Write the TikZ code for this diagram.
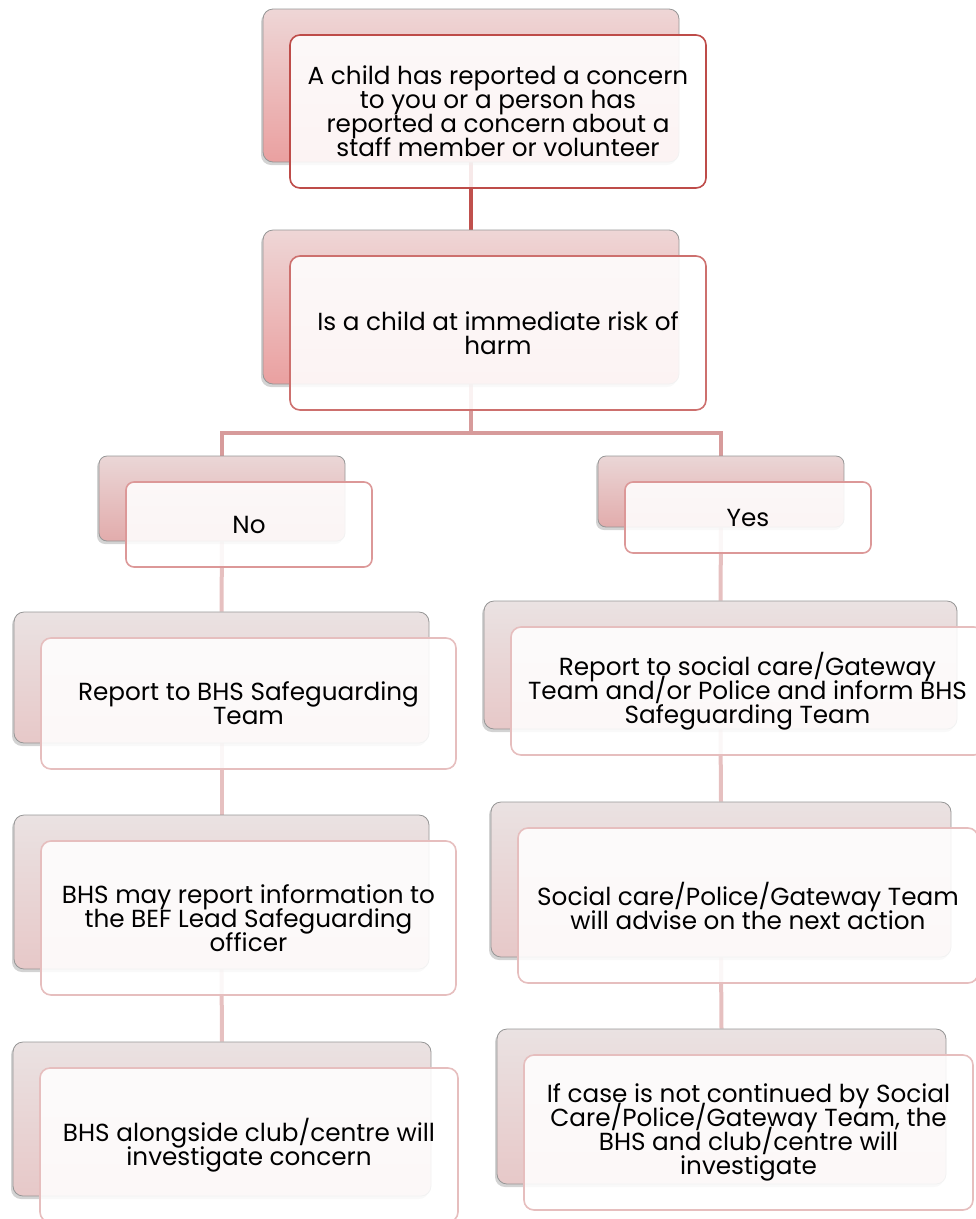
\documentclass[tikz,border=0pt]{standalone}
\usepackage{fontspec}
\setmainfont{Poppins}
\usetikzlibrary{shadows,calc}
\pgfdeclarelayer{bg}
\pgfsetlayers{bg,main}
\definecolor{bkTopA}{RGB}{238,214,214}
\definecolor{bkBotA}{RGB}{234,160,160}
\definecolor{bkTopB}{RGB}{234,214,214}
\definecolor{bkBotB}{RGB}{226,172,172}
\definecolor{bkTopC}{RGB}{234,226,226}
\definecolor{bkBotC}{RGB}{231,200,200}
\definecolor{frA}{RGB}{190,76,73}
\definecolor{frB}{RGB}{205,112,110}
\definecolor{frC}{RGB}{220,152,152}
\definecolor{frD}{RGB}{230,190,190}
\definecolor{lnA}{RGB}{192,80,77}
\definecolor{lnB}{RGB}{215,155,155}
\definecolor{lnC}{RGB}{230,192,192}
\newcommand\mkpair[8]{%
  \node[#6, minimum width=#4pt, minimum height=#5pt] (b#1) at (#2,#3) {};
  \node[#7, minimum width=#4pt, minimum height=#5pt] (f#1) at ($(b#1.center)+(27,26)$) {#8};
}
\begin{document}
\begin{tikzpicture}[x=1pt,y=-1pt,
  backbox/.style={rectangle, rounded corners=10pt, draw={rgb,255:red,150;green,150;blue,150}, line width=0.8pt,
     drop shadow={shadow xshift=-2pt, shadow yshift=-3pt, opacity=0.35, fill=gray}},
  backA/.style={backbox, top color=bkTopA, bottom color=bkBotA},
  backB/.style={backbox, top color=bkTopB, bottom color=bkBotB, rounded corners=8pt},
  backC/.style={backbox, top color=bkTopC, bottom color=bkBotC},
  frontbox/.style={rectangle, rounded corners=10pt, fill=white, fill opacity=0.88, text opacity=1,
     line width=1.6pt, align=center, inner sep=0pt,
     font={\fontsize{24.7}{24}\selectfont\lineskiplimit=-30pt}},
  frontA/.style={frontbox, draw=frA},
  frontB/.style={frontbox, draw=frB},
  frontC/.style={frontbox, draw=frC, rounded corners=8pt},
  frontD/.style={frontbox, draw=frD},
  conn/.style={line width=4pt}
]
\useasboundingbox (0,0) rectangle (976,1219);
\clip (0,0) rectangle (976,1219);

\mkpair{1}{471}{85.5}{416}{153}{backA}{frontA}{A child has reported a concern\\to you or a person has\\reported a concern about a\\staff member or volunteer}
\mkpair{2}{471}{307}{416}{154}{backA}{frontB}{Is a child at immediate risk of\\harm}
\mkpair{N}{222}{498.5}{246}{85}{backB}{frontC}{No}
\mkpair{Y}{721}{491.5}{246}{71}{backB}{frontC}{Yes}
\mkpair{L4}{221.5}{677.5}{415}{131}{backC}{frontD}{Report to BHS Safeguarding\\Team}
\mkpair{L5}{221.5}{892}{415}{154}{backC}{frontD}{BHS may report information to\\the BEF Lead Safeguarding\\officer}
\mkpair{L6}{222}{1119}{418}{154}{backC}{frontD}{BHS alongside club/centre will\\investigate concern}
\mkpair{R4}{720.5}{665}{473}{128}{backC}{frontD}{Report to social care/Gateway\\Team and/or Police and inform BHS\\Safeguarding Team}
\mkpair{R5}{721}{879.5}{460}{155}{backC}{frontD}{Social care/Police/Gateway Team\\will advise on the next action}
\mkpair{R6}{721.5}{1106.5}{449}{155}{backC}{frontD}{If case is not continued by Social\\Care/Police/Gateway Team, the\\BHS and club/centre will\\investigate}

\coordinate (j) at (471,433);
\begin{pgfonlayer}{bg}
  \draw[conn, draw=lnA] (b1.south) -- (b2.north);
  \draw[conn, draw=lnB] (b2.south) -- (j);
  \draw[conn, draw=lnB] (j) -| (bN.north);
  \draw[conn, draw=lnB] (j) -| (bY.north);
  \draw[conn, draw=lnC] (bN.south) -- (bL4.north);
  \draw[conn, draw=lnC] (bL4.south) -- (bL5.north);
  \draw[conn, draw=lnC] (bL5.south) -- (bL6.north);
  \draw[conn, draw=lnC] (bY.south) -- (bR4.north);
  \draw[conn, draw=lnC] (bR4.south) -- (bR5.north);
  \draw[conn, draw=lnC] (bR5.south) -- (bR6.north);
\end{pgfonlayer}
\end{tikzpicture}
\end{document}
